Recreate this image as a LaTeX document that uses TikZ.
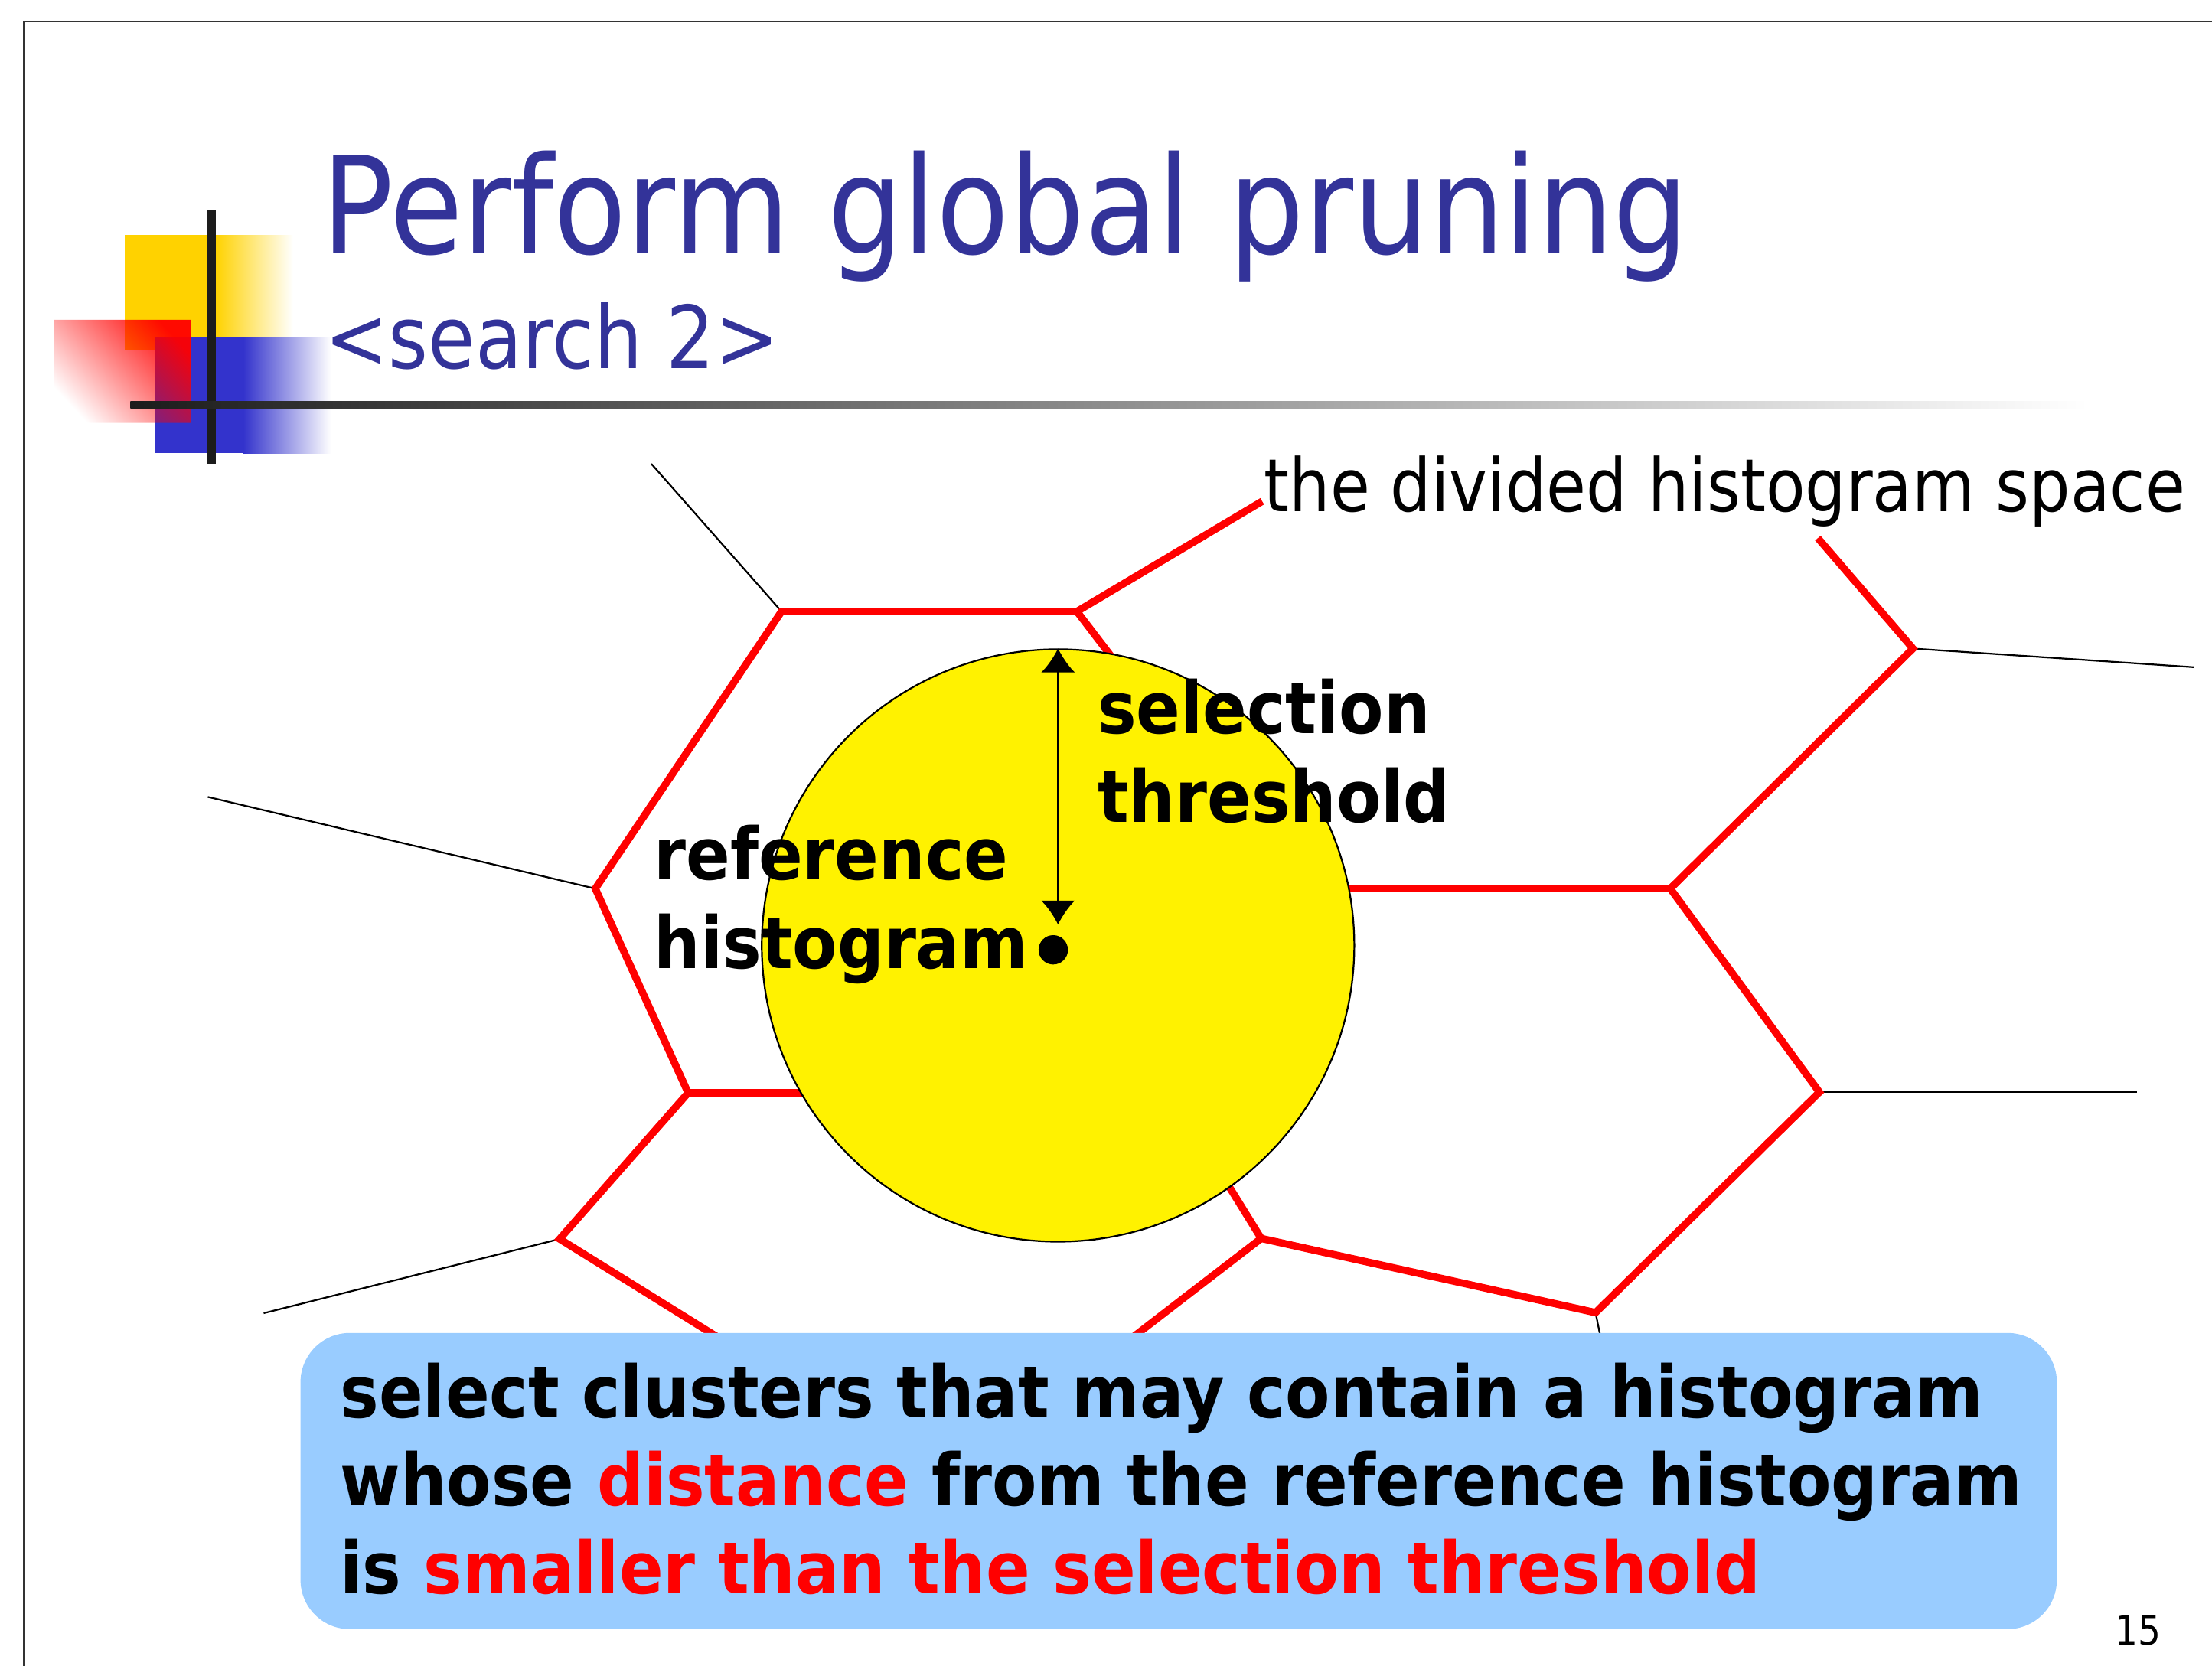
\documentclass[tikz,border=0pt]{standalone}
\usepackage{fontspec}
\setmainfont{DejaVu Sans}[FakeStretch=0.88]
\newfontfamily\labelfont{DejaVu Sans}[FakeStretch=0.905]
\usetikzlibrary{arrows.meta,fadings}
\definecolor{titleblue}{HTML}{333399}
\definecolor{notefill}{HTML}{99CCFF}
\definecolor{logoyellow}{HTML}{FFD200}
\definecolor{logoblue}{HTML}{3333CC}
\definecolor{logobar}{HTML}{1C1C1C}
\tikzfading[name=redfade, left color=transparent!100, right color=transparent!5]
\tikzset{
  wall/.style={red,line width=5.2pt},
  edge/.style={black,line width=1.2pt},
  lbl/.style={inner sep=0pt,anchor=base west,align=left},
}
\begin{document}
\begin{tikzpicture}[x=1pt,y=-1pt]
\useasboundingbox (0,0) rectangle (1568,1181);
% frame and logo
\draw[black!80,line width=1.4pt] (17.2,1181) -- (17.2,15.3) -- (1568,15.3);
\fill[logoyellow] (88.7,166.7) rectangle (153,248.6);
\shade[left color=logoyellow,right color=white] (153,166.7) rectangle (207.7,248.6);
\fill[logoblue] (109.7,239) rectangle (172.4,321.3);
\shade[left color=logoblue,right color=white] (172.4,239) rectangle (234.7,321.3);
\fill[red,path fading=redfade,fading angle=35] (38.6,226.7) rectangle (135.2,299.8);
\fill[logobar] (147,148.5) rectangle (153.2,329);
\shade[left color=logobar,middle color=black!65,right color=white] (92.4,284.6) rectangle (1480,289.5);
\node[lbl,text=titleblue,font=\fontsize{96}{110}\selectfont] (T0) at (228,180) {Perform global pruning};
\node[lbl,text=titleblue,font=\fontsize{61.5}{70}\selectfont] (T1) at (230,261) {<search 2>};
% cell vertices
\coordinate (V1) at (554,433.5);
\coordinate (V2) at (763.4,433.5);
\coordinate (V3) at (422,630);
\coordinate (V4) at (487.8,774.8);
\coordinate (V5) at (396.7,878.4);
\coordinate (V6) at (894,878);
\coordinate (V7) at (1131,930.6);
\coordinate (V8) at (1289.7,774.3);
\coordinate (V9) at (1184,630);
\coordinate (V10) at (1356,459.8);
% free ends
\coordinate (E1) at (461.7,328.8);
\coordinate (E2) at (894.7,355.4);
\coordinate (E3) at (147.3,565);
\coordinate (E4) at (186.9,931);
\coordinate (E5) at (520,955);
\coordinate (E6) at (794,955);
\coordinate (E7) at (1136,955);
\coordinate (E8) at (1514.6,774.3);
\coordinate (E9) at (1555,473);
\coordinate (E10) at (1288.6,381.5);
% ends hidden by the ball
\coordinate (H1) at (805,488);
\coordinate (H2) at (600,774.8);
\coordinate (H3) at (930,630);
\coordinate (H4) at (860,823);
\draw[edge] (E1) -- (V1);
\draw[edge] (E3) -- (V3);
\draw[edge] (E4) -- (V5);
\draw[edge] (V7) -- (E7);
\draw[edge] (V8) -- (E8);
\draw[edge] (V10) -- (E9);
\draw[wall] (E2) -- (V2) -- (V1) -- (V3) -- (V4) -- (V5) -- (E5);
\draw[wall] (V2) -- (H1);
\draw[wall] (V4) -- (H2);
\draw[wall] (H3) -- (V9) -- (V10) -- (E10);
\draw[wall] (V9) -- (V8) -- (V7) -- (V6) -- (E6);
\draw[wall] (V6) -- (H4);
% query ball
\node[circle,draw,fill=yellow,line width=1.2pt,minimum size=420pt,inner sep=0pt] (ball) at (750,670.3) {};
\node[circle,fill,inner sep=0pt,minimum size=20.8pt] (refdot) at (746.6,673.4) {};
\coordinate (thrtip) at (750,655.5);
\draw[<->,>={Latex[length=17pt,width=24pt]},line width=1.2pt] (ball.north) -- (thrtip);
\node[lbl,font=\labelfont\bfseries\fontsize{51}{63}\selectfont] (T2) at (778,582.8) {selection\\threshold};
\node[lbl,font=\labelfont\bfseries\fontsize{51}{63}\selectfont] (T3) at (463.5,686.7) {reference\\histogram};
\node[lbl,font=\fontsize{52}{60}\selectfont] (T4) at (896,362.5) {the divided histogram space};
% note box
\node[fill=notefill,rounded corners=35pt,minimum width=1245pt,minimum height=210pt,inner sep=0pt] (note) at (835.5,1050) {};
\node[lbl,font=\labelfont\bfseries\fontsize{51}{62.5}\selectfont] (T5) at (241,1130) {select clusters that may contain a histogram\\whose \textcolor{red}{distance} from the reference histogram\\is \textcolor{red}{smaller than the selection threshold}};
\node[lbl,font=\fontsize{29}{34}\selectfont] (pg) at (1499,1166) {15};
\end{tikzpicture}
\end{document}
